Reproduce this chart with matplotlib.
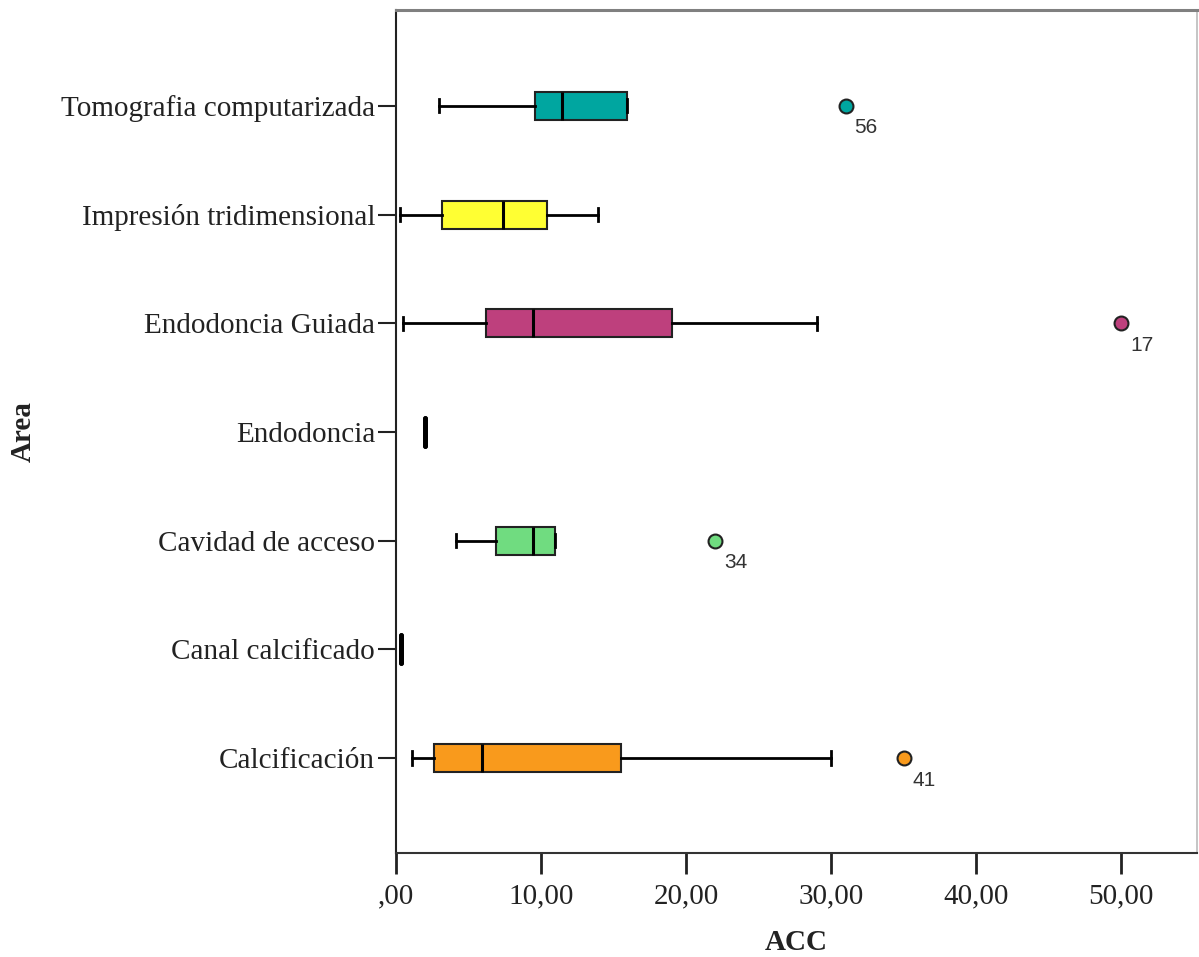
import matplotlib
matplotlib.use("Agg")
import matplotlib.pyplot as plt

plt.rcParams['font.family'] = ['Liberation Serif', 'DejaVu Serif']

# ---- data (bottom to top) ----
categories = ["Calcificación", "Canal calcificado", "Cavidad de acceso", "Endodoncia",
              "Endodoncia Guiada", "Impresión tridimensional", "Tomografia computarizada"]
whislo = [1.1, 0.32, 4.15, 2.0, 0.5, 0.28, 2.95]
q1 = [2.65, 0.32, 6.9, 2.0, 6.2, 3.2, 9.6]
med = [5.95, 0.32, 9.45, 2.0, 9.45, 7.35, 11.45]
q3 = [15.5, 0.32, 10.95, 2.0, 19.0, 10.4, 15.9]
whishi = [30.0, 0.32, 10.95, 2.0, 29.0, 13.95, 15.9]
outliers = [[35.0], [], [22.0], [], [50.0], [], [31.0]]
outlier_ids = [["41"], [], ["34"], [], ["17"], [], ["56"]]
colors = ["#F99A1C", None, "#70DC80", None, "#BE407D", "#FFFF33", "#00A6A0"]
xticks = [0, 10, 20, 30, 40, 50]
xtick_labels = [",00", "10,00", "20,00", "30,00", "40,00", "50,00"]

W, H = 1199, 957
fig = plt.figure(figsize=(W / 100, H / 100), dpi=100)
ax = fig.add_axes([396 / W, 1 - 853 / H, (1197 - 396) / W, (853 - 10) / H])

positions = list(range(len(categories)))
stats = []
for i, c in enumerate(categories):
    stats.append(dict(label=c, whislo=whislo[i], q1=q1[i], med=med[i], q3=q3[i],
                      whishi=whishi[i], fliers=outliers[i]))

bp = ax.bxp(stats, positions=positions, orientation='horizontal', widths=0.26,
            capwidths=0.12, patch_artist=True, showfliers=True,
            boxprops=dict(edgecolor='#222222', linewidth=1.5),
            medianprops=dict(color='black', linewidth=2.2),
            whiskerprops=dict(color='black', linewidth=2.0),
            capprops=dict(color='black', linewidth=2.0),
            flierprops=dict(marker='o', markersize=10, markeredgecolor='#222222',
                            markeredgewidth=1.5, linestyle='none'))

for i, patch in enumerate(bp['boxes']):
    if colors[i] is None:
        patch.set_facecolor('none')
        patch.set_edgecolor('black')
        patch.set_linewidth(3.5)
        patch.set_capstyle('round')
        patch.set_joinstyle('round')
        bp['medians'][i].set_linewidth(3.5)
        bp['medians'][i].set_solid_capstyle('round')
    else:
        patch.set_facecolor(colors[i])
for i, fl in enumerate(bp['fliers']):
    if colors[i] is not None:
        fl.set_markerfacecolor(colors[i])

for i in positions:
    for val, lab in zip(outliers[i], outlier_ids[i]):
        ax.annotate(lab, (val, positions[i]), xytext=(9, -22), textcoords='offset pixels',
                    ha='left', va='center', fontsize=15, color='#333333',
                    family=['Liberation Sans', 'DejaVu Sans'])

ax.set_xlim(0, (1197 - 396) / 14.5)
ax.set_ylim(-0.874, 6.883)
ax.set_yticks(positions, categories)
ax.set_xticks(xticks, xtick_labels)
ax.tick_params(axis='y', length=13, width=1.5, pad=2, labelsize=21, colors='#222222')
ax.tick_params(axis='x', length=15, width=2, pad=7, labelsize=21, colors='#222222')

ax.spines['left'].set_color('#222222')
ax.spines['left'].set_linewidth(1.5)
ax.spines['bottom'].set_color('#333333')
ax.spines['bottom'].set_linewidth(1.5)
ax.spines['top'].set_color('#808080')
ax.spines['top'].set_linewidth(2.2)
ax.spines['right'].set_color('#bbbbbb')
ax.spines['right'].set_linewidth(1.2)

fig.text(796.5 / W, 1 - 943 / H, "ACC", ha='center', va='center', fontsize=21,
         fontweight='bold', color='#222222')
fig.text(23 / W, 1 - 432 / H, "Area", ha='center', va='center', fontsize=21,
         fontweight='bold', rotation=90, color='#222222')

fig.savefig("out.png", dpi=100)
